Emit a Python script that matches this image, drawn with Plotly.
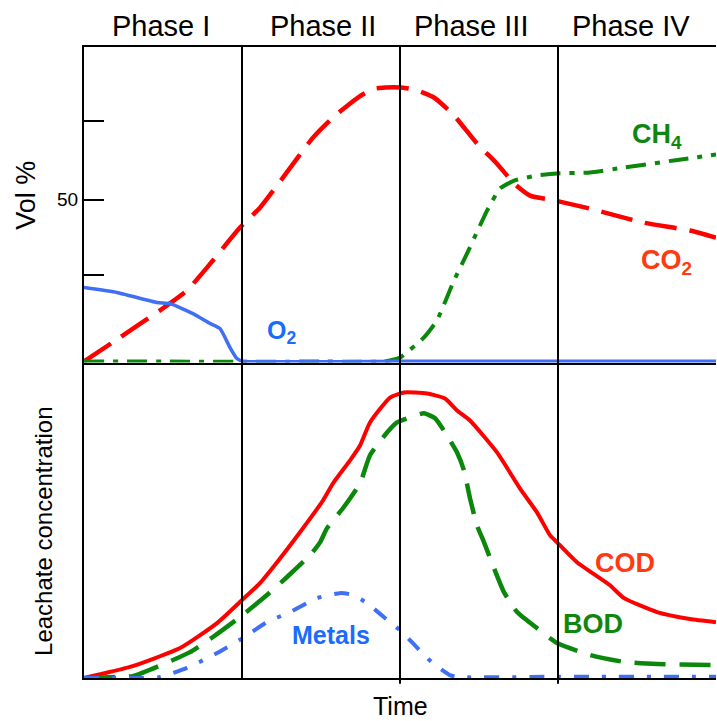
import plotly.graph_objects as go

# ---------------- data (time in phase units, 0..4) ----------------
phase_labels = ["Phase I", "Phase II", "Phase III", "Phase IV"]
phase_label_x = [0.49, 1.51, 2.45, 3.46]
phase_bounds = [1, 2, 3]

# Top panel: gas composition (Vol %)
co2_x = [0, 0.228, 0.481, 0.652, 0.816, 0.987, 1.114, 1.259, 1.449, 1.576, 1.734, 1.835,
         2.0, 2.095, 2.215, 2.342, 2.487, 2.614, 2.722, 2.823, 2.981, 3.203, 3.544, 3.835, 4.0]
co2_y = [0.3, 7.7, 16.0, 22.1, 31.3, 41.4, 47.5, 56.7, 69.0, 75.2, 81.3, 84.0,
         84.4, 83.7, 81.3, 75.8, 67.2, 61.0, 54.9, 51.2, 49.7, 47.2, 42.9, 40.5, 38.3]

ch4_x = [0, 0.5, 1.0, 1.5, 1.9, 2.0, 2.152, 2.234, 2.342, 2.424, 2.551, 2.633, 2.722,
         2.867, 2.994, 3.203, 3.418, 3.734, 4.0]
ch4_y = [0.3, 0.3, 0.2, 0.3, 0.3, 1.5, 7.7, 12.9, 25.2, 33.4, 46.6, 53.4, 55.8,
         57.4, 58.0, 58.3, 59.8, 62.0, 63.8]

o2_x = [0, 0.209, 0.462, 0.544, 0.690, 0.797, 0.861, 0.924, 0.968, 1.0, 2.0, 3.0, 4.0]
o2_y = [23.0, 21.5, 18.4, 18.1, 15.0, 12.0, 10.4, 4.6, 1.2, 0.4, 0.4, 0.4, 0.4]

# Bottom panel: leachate concentration (relative)
cod_x = [0, 0.291, 0.608, 0.842, 1.0, 1.114, 1.222, 1.367, 1.513, 1.576, 1.684, 1.747,
         1.810, 1.937, 2.025, 2.171, 2.285, 2.361, 2.443, 2.614, 2.759, 2.867, 2.949,
         2.994, 3.120, 3.329, 3.418, 3.627, 3.835, 4.0]
cod_y = [0, 3.5, 9.5, 17.4, 24.7, 30.1, 36.7, 46.2, 56.3, 61.7, 69.0, 73.7,
         81.0, 88.9, 90.5, 90.2, 88.6, 84.8, 81.6, 71.5, 60.1, 52.5, 45.3,
         43.0, 36.7, 29.4, 25.3, 20.9, 18.7, 17.7]

bod_x = [0, 0.209, 0.310, 0.563, 0.671, 0.816, 0.987, 1.158, 1.285, 1.430, 1.494, 1.538,
         1.639, 1.747, 1.810, 1.918, 1.981, 2.063, 2.152, 2.222, 2.297, 2.361, 2.405,
         2.443, 2.487, 2.532, 2.595, 2.658, 2.741, 2.867, 2.994, 3.203, 3.418, 3.627, 4.0]
bod_y = [0, 0.3, 0.6, 5.7, 8.2, 13.0, 19.3, 26.3, 32.0, 38.9, 43.0, 47.5,
         53.8, 61.7, 70.6, 77.8, 81.0, 82.6, 83.9, 82.3, 76.9, 71.5, 65.8,
         57.0, 48.4, 43.0, 34.8, 27.2, 20.9, 15.8, 11.1, 7.3, 5.1, 4.4, 4.1]

metals_x = [0, 0.354, 0.481, 0.652, 0.842, 1.006, 1.158, 1.304, 1.475, 1.620, 1.703,
            1.791, 1.937, 2.013, 2.152, 2.222, 2.316, 2.361, 3.0, 4.0]
metals_y = [0, 0, 0.3, 3.2, 7.9, 12.7, 17.7, 20.9, 25.3, 26.9, 26.3,
            23.7, 17.7, 14.6, 7.3, 4.1, 0.9, 0.3, 0.4, 0.4]

# ---------------- styles ----------------
RED = "#ff0000"
GREEN = "#0b870b"
BLUE = "#3f6ff5"
LBL_RED = "#ff3a12"
LBL_GREEN = "#0f870f"
LBL_BLUE = "#1a6cff"
FONT = "Liberation Sans, Arial, sans-serif"

fig = go.Figure()

# top panel
fig.add_trace(go.Scatter(x=co2_x, y=co2_y, xaxis="x2", yaxis="y2", mode="lines",
                         line=dict(color=RED, width=4.5, dash="32px,13px", shape="spline", smoothing=0.5)))
fig.add_trace(go.Scatter(x=ch4_x, y=ch4_y, xaxis="x2", yaxis="y2", mode="lines",
                         line=dict(color=GREEN, width=4, dash="20px,9px,5px,9px", shape="spline", smoothing=0.4)))
fig.add_trace(go.Scatter(x=o2_x, y=o2_y, xaxis="x2", yaxis="y2", mode="lines",
                         line=dict(color=BLUE, width=3.5, shape="spline", smoothing=0.4)))

# bottom panel
fig.add_trace(go.Scatter(x=cod_x, y=cod_y, xaxis="x", yaxis="y", mode="lines",
                         line=dict(color=RED, width=4, shape="spline", smoothing=0.5)))
fig.add_trace(go.Scatter(x=bod_x, y=bod_y, xaxis="x", yaxis="y", mode="lines",
                         line=dict(color=GREEN, width=4.5, dash="31px,14px", shape="spline", smoothing=0.5)))
fig.add_trace(go.Scatter(x=metals_x, y=metals_y, xaxis="x", yaxis="y", mode="lines",
                         line=dict(color=BLUE, width=4, dash="15px,13px,4px,13px", shape="spline", smoothing=0.5)))

annotations = []
for lab, px in zip(phase_labels, phase_label_x):
    annotations.append(dict(x=px, y=1.033, xref="x2", yref="paper", text=lab, showarrow=False,
                            xanchor="center", yanchor="middle", font=dict(family=FONT, size=29, color="black")))

def lbl(text, x, y, yref, color, size):
    annotations.append(dict(x=x, y=y, xref="x2" if yref == "y2" else "x", yref=yref, text="<b>" + text + "</b>",
                            showarrow=False, xanchor="center", yanchor="middle",
                            font=dict(family=FONT, size=size, color=color)))

lbl("O<sub>2</sub>", 1.253, 9.5, "y2", LBL_BLUE, 25)
lbl("CH<sub>4</sub>", 3.627, 69.5, "y2", LBL_GREEN, 27)
lbl("CO<sub>2</sub>", 3.684, 30.8, "y2", LBL_RED, 27)
lbl("COD", 3.424, 36.4, "y", LBL_RED, 27)
lbl("BOD", 3.222, 17.1, "y", LBL_GREEN, 27)
lbl("Metals", 1.563, 13.6, "y", LBL_BLUE, 25)

# axis titles
annotations.append(dict(x=-0.092, y=0.7655, xref="paper", yref="paper", text="Vol %", textangle=-90,
                        showarrow=False, xanchor="center", yanchor="middle",
                        font=dict(family=FONT, size=27, color="black")))
annotations.append(dict(x=-0.0633, y=0.233, xref="paper", yref="paper", text="Leachate concentration",
                        textangle=-90, showarrow=False, xanchor="center", yanchor="middle",
                        font=dict(family=FONT, size=24, color="black")))
annotations.append(dict(x=0.5, y=-0.0445, xref="paper", yref="paper", text="Time",
                        showarrow=False, xanchor="center", yanchor="middle",
                        font=dict(family=FONT, size=25, color="black")))

# phase boundary lines (full height) and small tick extensions below the bottom axis
shapes = []
for b in phase_bounds:
    shapes.append(dict(type="line", xref="x", yref="paper", x0=b, x1=b, y0=0, y1=1,
                       line=dict(color="black", width=2), layer="above"))
for b in phase_bounds[1:]:
    shapes.append(dict(type="line", xref="x", yref="paper", x0=b, x1=b, y0=-0.009, y1=0,
                       line=dict(color="black", width=2), layer="above"))

xcommon = dict(range=[0, 4], showline=True, linecolor="black", linewidth=2,
               showgrid=False, showticklabels=False, ticks="", zeroline=False, fixedrange=True)

fig.update_layout(
    width=717, height=721,
    margin=dict(l=84, r=1, t=47, b=43),
    plot_bgcolor="white", paper_bgcolor="white",
    showlegend=False,
    font=dict(family=FONT, color="black"),
    xaxis=dict(anchor="y", domain=[0, 1], **xcommon),
    xaxis2=dict(anchor="y2", domain=[0, 1], mirror=True, **xcommon),
    yaxis=dict(anchor="x", domain=[0, 0.5], range=[0, 100], showline=True, linecolor="black",
               linewidth=2, showgrid=False, zeroline=False, showticklabels=False, ticks=""),
    yaxis2=dict(anchor="x2", domain=[0.5, 1], range=[0, 96.8], showline=True, linecolor="black",
                linewidth=2, showgrid=False, zeroline=False,
                tickvals=[50], ticktext=["50"], ticks="inside", ticklen=20,
                tickwidth=2, tickcolor="black", tickfont=dict(family=FONT, size=19, color="black"),
                minor=dict(tickvals=[27, 74], ticks="inside", ticklen=20, tickwidth=2,
                           tickcolor="black", showgrid=False)),
    annotations=annotations,
    shapes=shapes,
)

# remove the default page margin so the 717x721 figure fills the window exactly
fig.write_html("out.html", config={"displayModeBar": False},
               post_script="document.body.style.margin='0';document.body.style.overflow='hidden';")
